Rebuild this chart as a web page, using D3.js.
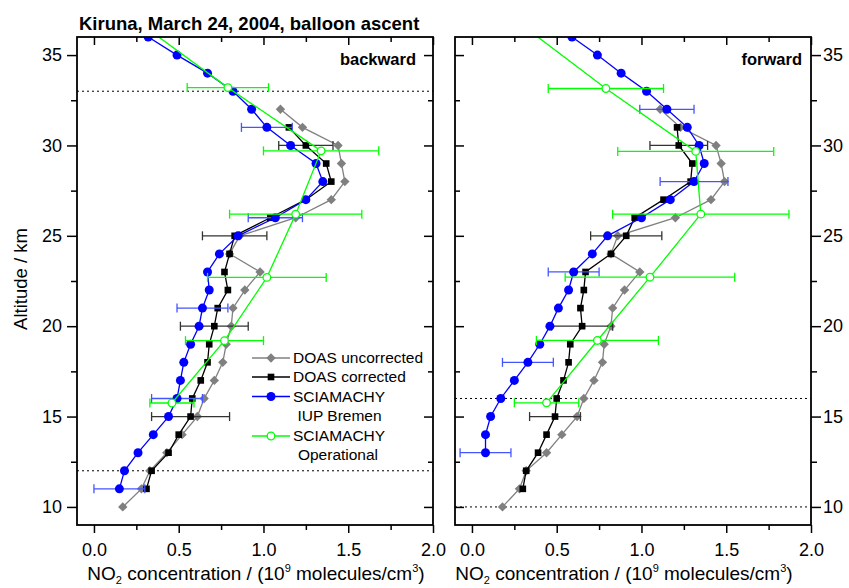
<!DOCTYPE html>
<html>
<head>
<meta charset="utf-8">
<script src="https://cdn.jsdelivr.net/npm/d3@7"></script>
<style>
body { margin: 0; background: #fff; }
text { font-family: Arial, "Liberation Sans", sans-serif; fill: #000; }
</style>
</head>
<body>
<div id="chart"></div>
<script>
// values: altitude in km, NO2 in 10^9 molecules/cm3

// backward panel
const bwUncorrAlt = [32,31,30,29,28,27,26,25,24,23,22,21,20,19,18,17,16,15,14,13,12,11,10];
const bwUncorr    = [1.10,1.23,1.44,1.46,1.48,1.40,1.19,0.86,0.80,0.98,0.89,0.82,0.81,0.78,0.76,0.71,0.65,0.61,0.52,0.43,0.33,0.28,0.17];

const bwCorrAlt = [31,30,29,28,27,26,25,24,23,22,21,20,19,18,17,16,15,14,13,12,11];
const bwCorr    = [1.15,1.25,1.37,1.40,1.25,1.04,0.83,0.80,0.77,0.79,0.73,0.71,0.68,0.67,0.63,0.58,0.57,0.50,0.44,0.34,0.31];
const bwCorrErrAlt = [30,25,20,15];
const bwCorrErr    = [0.16,0.19,0.20,0.23];

const bwIupAlt = [36,35,34,33,32,31,30,29,28,27,26,25,24,23,22,21,20,19,18,17,16,15,14,13,12,11];
const bwIup    = [0.32,0.49,0.67,0.82,0.93,1.02,1.16,1.31,1.35,1.25,1.07,0.85,0.74,0.67,0.68,0.64,0.62,0.57,0.53,0.51,0.49,0.44,0.35,0.26,0.18,0.15];
const bwIupErrAlt = [31,26,21,16,11];
const bwIupErr    = [0.15,0.16,0.15,0.15,0.15];

const bwOpAlt = [36.7,33.2,29.7,26.2,22.7,19.2,15.75];
const bwOp    = [0.28,0.79,1.34,1.19,1.02,0.77,0.46];
const bwOpErrAlt = [33.2,29.7,26.2,22.7,19.2,15.75];
const bwOpErr    = [0.24,0.34,0.39,0.35,0.23,0.13];

// forward panel
const fwUncorrAlt = [32,31,30,29,28,27,26,25,24,23,22,21,20,19,18,17,16,15,14,13,12,11,10];
const fwUncorr    = [1.11,1.23,1.44,1.47,1.49,1.41,1.20,0.86,0.82,0.99,0.90,0.83,0.82,0.78,0.77,0.72,0.66,0.62,0.53,0.44,0.32,0.28,0.18];

const fwCorrAlt = [31,30,29,28,27,26,25,24,23,22,21,20,19,18,17,16,15,14,13,12,11];
const fwCorr    = [1.21,1.22,1.30,1.29,1.13,0.96,0.91,0.82,0.67,0.66,0.64,0.65,0.58,0.57,0.54,0.50,0.49,0.44,0.39,0.32,0.30];
const fwCorrErrAlt = [30,25,20,15];
const fwCorrErr    = [0.17,0.21,0.18,0.15];

const fwIupAlt = [36,35,34,33,32,31,30,29,28,27,26,25,24,23,22,21,20,19,18,17,16,15,14,13];
const fwIup    = [0.59,0.74,0.88,1.03,1.15,1.27,1.34,1.37,1.31,1.17,1.00,0.80,0.71,0.60,0.57,0.51,0.46,0.40,0.33,0.25,0.17,0.11,0.08,0.08];
const fwIupErrAlt = [32,28,23,18,13];
const fwIupErr    = [0.16,0.20,0.15,0.15,0.15];

const fwOpAlt = [36.7,33.15,29.67,26.2,22.71,19.21,15.76];
const fwOp    = [0.29,0.79,1.32,1.35,1.05,0.74,0.44];
const fwOpErrAlt = [33.15,29.67,26.2,22.71,19.21,15.76];
const fwOpErr    = [0.34,0.46,0.52,0.50,0.36,0.19];

// dotted altitude markers
const bwLevels = [33, 12];
const fwLevels = [16, 10];

// axis ticks
const xMajor = [0, 0.5, 1.0, 1.5, 2.0];
const xMinor = [0.25, 0.75, 1.25, 1.75];
const yMajor = [10, 15, 20, 25, 30, 35];
const yMinor = [12.5, 17.5, 22.5, 27.5, 32.5];

const legendNames = ["DOAS uncorrected", "DOAS corrected", "SCIAMACHY", "SCIAMACHY"];

const width = 849, height = 588;
const plotTop = 37, plotBottom = 525;

const svg = d3.select("#chart")
    .append("svg")
    .attr("width", width)
    .attr("height", height);

const y = d3.scaleLinear().domain([9, 36]).range([plotBottom, plotTop]);

function series(alt, val, errAlt, err) {
    return alt.map((a, i) => {
        const k = errAlt ? errAlt.indexOf(a) : -1;
        return {alt: a, v: val[i], e: k > -1 ? err[k] : null};
    });
}

const styles = {
    uncorr: {color: "#808080", bar: "#808080", marker: "diamond"},
    corr:   {color: "#000000", bar: "#333333", marker: "square"},
    iup:    {color: "#0000ff", bar: "#4455ff", marker: "dot"},
    op:     {color: "#00ff00", bar: "#00ff00", marker: "open"}
};

function drawMarker(sel, kind, color) {
    if (kind === "diamond") {
        sel.append("path")
            .attr("d", d3.symbol(d3.symbolSquare, 44)())
            .attr("transform", "rotate(45)")
            .attr("fill", color);
    } else if (kind === "square") {
        sel.append("path")
            .attr("d", d3.symbol(d3.symbolSquare, 44)())
            .attr("fill", color);
    } else if (kind === "dot") {
        sel.append("circle").attr("r", 4.5).attr("fill", color);
    } else {
        sel.append("circle").attr("r", 3.8)
            .attr("fill", "#fff")
            .attr("stroke", color)
            .attr("stroke-width", 1.3);
    }
}

function drawSeries(g, x, data, st) {
    // error bars
    const bars = g.append("g")
        .attr("stroke", st.bar)
        .attr("stroke-width", 1.3)
        .selectAll("g")
        .data(data.filter(d => d.e !== null))
        .join("g");
    bars.append("line")
        .attr("x1", d => x(d.v - d.e)).attr("x2", d => x(d.v + d.e))
        .attr("y1", d => y(d.alt)).attr("y2", d => y(d.alt));
    bars.append("line")
        .attr("x1", d => x(d.v - d.e)).attr("x2", d => x(d.v - d.e))
        .attr("y1", d => y(d.alt) - 4.5).attr("y2", d => y(d.alt) + 4.5);
    bars.append("line")
        .attr("x1", d => x(d.v + d.e)).attr("x2", d => x(d.v + d.e))
        .attr("y1", d => y(d.alt) - 4.5).attr("y2", d => y(d.alt) + 4.5);

    g.append("path")
        .datum(data)
        .attr("fill", "none")
        .attr("stroke", st.color)
        .attr("stroke-width", 1.3)
        .attr("d", d3.line().x(d => x(d.v)).y(d => y(d.alt)));

    g.append("g")
        .selectAll("g")
        .data(data)
        .join("g")
        .attr("transform", d => `translate(${x(d.v)},${y(d.alt)})`)
        .each(function() { drawMarker(d3.select(this), st.marker, st.color); });
}

function drawPanel(x0, x1, id, sets, levels, labelSide, tag, tagX, labelX) {
    const x = d3.scaleLinear().domain([-0.1, 2.0]).range([x0, x1]);

    svg.append("clipPath").attr("id", id)
        .append("rect")
        .attr("x", x0).attr("y", plotTop)
        .attr("width", x1 - x0).attr("height", plotBottom - plotTop);

    const plot = svg.append("g").attr("clip-path", `url(#${id})`);

    // dotted reference altitudes
    plot.selectAll("line.lvl")
        .data(levels)
        .join("line")
        .attr("class", "lvl")
        .attr("x1", x0).attr("x2", x1)
        .attr("y1", d => y(d)).attr("y2", d => y(d))
        .attr("stroke", "#000")
        .attr("stroke-width", 1)
        .attr("stroke-dasharray", "2,3");

    drawSeries(plot.append("g"), x, sets.uncorr, styles.uncorr);
    drawSeries(plot.append("g"), x, sets.corr, styles.corr);
    drawSeries(plot.append("g"), x, sets.iup, styles.iup);
    drawSeries(plot.append("g"), x, sets.op, styles.op);

    const tickStyle = g => {
        g.select(".domain").remove();
        g.selectAll("line").attr("stroke", "#000").attr("stroke-width", 1.5);
        g.selectAll("text").attr("font-size", 18).attr("fill", "#000")
            .attr("font-family", "Arial, 'Liberation Sans', sans-serif");
    };

    // X axis, bottom with labels, top ticks inside
    svg.append("g")
        .attr("transform", `translate(0, ${plotBottom})`)
        .call(d3.axisBottom(x).tickValues(xMajor).tickSize(8).tickPadding(10).tickFormat(d3.format(".1f")))
        .call(tickStyle);
    svg.append("g")
        .attr("transform", `translate(0, ${plotBottom})`)
        .call(d3.axisBottom(x).tickValues(xMinor).tickSize(5).tickFormat(""))
        .call(tickStyle);
    svg.append("g")
        .attr("transform", `translate(0, ${plotTop})`)
        .call(d3.axisBottom(x).tickValues(xMajor).tickSize(8).tickFormat(""))
        .call(tickStyle);
    svg.append("g")
        .attr("transform", `translate(0, ${plotTop})`)
        .call(d3.axisBottom(x).tickValues(xMinor).tickSize(5).tickFormat(""))
        .call(tickStyle);

    // Y axis, labelled side outward, other side inward
    const outX = labelSide === "left" ? x0 : x1;
    const inX = labelSide === "left" ? x1 : x0;
    const outAxis = labelSide === "left" ? d3.axisLeft : d3.axisRight;
    const inAxis = labelSide === "left" ? d3.axisLeft : d3.axisRight;
    svg.append("g")
        .attr("transform", `translate(${outX}, 0)`)
        .call(outAxis(y).tickValues(yMajor).tickSize(10).tickPadding(labelSide === "left" ? 5 : 2))
        .call(tickStyle);
    svg.append("g")
        .attr("transform", `translate(${outX}, 0)`)
        .call(outAxis(y).tickValues(yMinor).tickSize(6).tickFormat(""))
        .call(tickStyle);
    svg.append("g")
        .attr("transform", `translate(${inX}, 0)`)
        .call(inAxis(y).tickValues(yMajor).tickSize(9).tickFormat(""))
        .call(tickStyle);
    svg.append("g")
        .attr("transform", `translate(${inX}, 0)`)
        .call(inAxis(y).tickValues(yMinor).tickSize(5).tickFormat(""))
        .call(tickStyle);

    // frame
    svg.append("rect")
        .attr("x", x0).attr("y", plotTop)
        .attr("width", x1 - x0).attr("height", plotBottom - plotTop)
        .attr("fill", "none")
        .attr("stroke", "#000")
        .attr("stroke-width", 1.8);

    svg.append("text")
        .attr("x", tagX).attr("y", 65)
        .attr("text-anchor", "end")
        .attr("font-size", 16.5)
        .attr("font-weight", "bold")
        .text(tag);

    // X axis label
    const lab = svg.append("text")
        .attr("x", labelX)
        .attr("y", 580)
        .attr("text-anchor", "middle")
        .attr("font-size", 19);
    lab.append("tspan").text("NO");
    lab.append("tspan").attr("font-size", 11).attr("dy", 4).text("2");
    lab.append("tspan").attr("dy", -4).text(" concentration / (10");
    lab.append("tspan").attr("font-size", 11).attr("dy", -8).text("9");
    lab.append("tspan").attr("dy", 8).text(" molecules/cm");
    lab.append("tspan").attr("font-size", 11).attr("dy", -8).text("3");
    lab.append("tspan").attr("dy", 8).text(")");

    return x;
}

drawPanel(77, 433, "clipBw", {
    uncorr: series(bwUncorrAlt, bwUncorr),
    corr: series(bwCorrAlt, bwCorr, bwCorrErrAlt, bwCorrErr),
    iup: series(bwIupAlt, bwIup, bwIupErrAlt, bwIupErr),
    op: series(bwOpAlt, bwOp, bwOpErrAlt, bwOpErr)
}, bwLevels, "left", "backward", 416, 256);

drawPanel(455, 811, "clipFw", {
    uncorr: series(fwUncorrAlt, fwUncorr),
    corr: series(fwCorrAlt, fwCorr, fwCorrErrAlt, fwCorrErr),
    iup: series(fwIupAlt, fwIup, fwIupErrAlt, fwIupErr),
    op: series(fwOpAlt, fwOp, fwOpErrAlt, fwOpErr)
}, fwLevels, "right", "forward", 802, 624);

// title
svg.append("text")
    .attr("x", 79)
    .attr("y", 30)
    .attr("font-size", 18.5)
    .attr("font-weight", "bold")
    .text("Kiruna, March 24, 2004, balloon ascent");

// Y axis label
svg.append("text")
    .attr("transform", "rotate(-90)")
    .attr("x", -279)
    .attr("y", 27)
    .attr("text-anchor", "middle")
    .attr("font-size", 18.5)
    .text("Altitude / km");

// legend
const legend = svg.append("g");
const legendKeys = ["uncorr", "corr", "iup", "op"];
const rowY = [358, 377, 396.5, 436];
legendKeys.forEach((k, i) => {
    const st = styles[k];
    legend.append("line")
        .attr("x1", 252).attr("x2", 290)
        .attr("y1", rowY[i]).attr("y2", rowY[i])
        .attr("stroke", st.color).attr("stroke-width", 1.3);
    const m = legend.append("g").attr("transform", `translate(271,${rowY[i]})`);
    drawMarker(m, st.marker, st.color);
    legend.append("text")
        .attr("x", 293).attr("y", rowY[i])
        .attr("dy", "0.35em")
        .attr("font-size", 15.5)
        .text(legendNames[i]);
});
legend.append("text")
    .attr("x", 339.5).attr("y", 416).attr("dy", "0.35em")
    .attr("text-anchor", "middle").attr("font-size", 15.5)
    .text("IUP Bremen");
legend.append("text")
    .attr("x", 338).attr("y", 455).attr("dy", "0.35em")
    .attr("text-anchor", "middle").attr("font-size", 15.5)
    .text("Operational");
</script>
</body>
</html>
